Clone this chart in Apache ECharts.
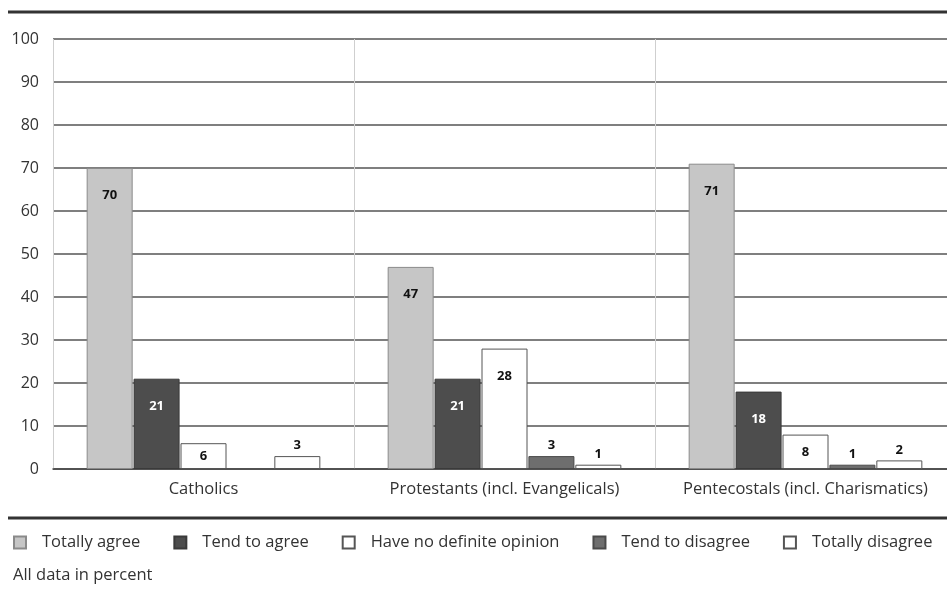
<!DOCTYPE html>
<html>
<head>
<meta charset="utf-8">
<script src="https://cdn.jsdelivr.net/npm/echarts@6/dist/echarts.min.js"></script>
<style>
html,body{margin:0;padding:0;background:#fff;}
#chart{width:947px;height:596px;}
</style>
</head>
<body>
<div id="chart"></div>
<script>
const categories = ['Catholics', 'Protestants (incl. Evangelicals)', 'Pentecostals (incl. Charismatics)'];
const seriesNames = ['Totally agree', 'Tend to agree', 'Have no definite opinion', 'Tend to disagree', 'Totally disagree'];
const totallyAgree = [70, 47, 71];
const tendToAgree = [21, 21, 18];
const noOpinion = [6, 28, 8];
const tendToDisagree = [null, 3, 1];
const totallyDisagree = [3, 1, 2];
const yTicks = [0, 10, 20, 30, 40, 50, 60, 70, 80, 90, 100];
const note = 'All data in percent';

const FONT = '"Open Sans", "Noto Sans", sans-serif';
const fills = ['#c6c6c6', '#4d4d4d', '#ffffff', '#6e6e6e', '#ffffff'];
const borders = ['#8a8a8a', '#3a3a3a', '#555555', '#4a4a4a', '#555555'];
const labelColors = ['#111', '#fff', '#111', '#111', '#111'];
const values = [totallyAgree, tendToAgree, noOpinion, tendToDisagree, totallyDisagree];

function makeData(arr, idx) {
  return arr.map(v => {
    if (v === null) return { value: null };
    let label;
    if (v >= 10) {
      label = { show: true, position: 'insideTop', distance: 21, color: labelColors[idx] };
    } else if (v >= 5) {
      label = { show: true, position: 'inside', color: labelColors[idx] };
    } else {
      label = { show: true, position: 'top', distance: 4, color: '#111' };
    }
    return { value: v, label: label };
  });
}

const series = seriesNames.map((name, i) => ({
  name: name,
  type: 'bar',
  barWidth: 46,
  barGap: '2%',
  data: makeData(values[i], i),
  itemStyle: { color: fills[i], borderColor: borders[i], borderWidth: 1 },
  label: { fontFamily: FONT, fontSize: 13, fontWeight: 'bold' },
  emphasis: { disabled: true }
}));

const chart = echarts.init(document.getElementById('chart'), null, { renderer: 'canvas' });
chart.setOption({
  animation: false,
  backgroundColor: '#ffffff',
  grid: { left: 53, width: 903, top: 39, height: 430, containLabel: false, outerBoundsMode: 'none' },
  legend: {
    data: seriesNames,
    left: 13,
    top: 534,
    padding: 0,
    itemWidth: 12,
    itemHeight: 12,
    itemGap: 33,
    icon: 'rect',
    textStyle: { fontFamily: FONT, fontSize: 16.5, color: '#333', padding: [0, 0, 0, 11] }
  },
  graphic: [
    { type: 'line', shape: { x1: 8, y1: 12, x2: 947, y2: 12 }, style: { stroke: '#333', lineWidth: 3 } },
    { type: 'line', shape: { x1: 8, y1: 518, x2: 947, y2: 518 }, style: { stroke: '#333', lineWidth: 3 } },
    { type: 'text', left: 13, top: 567, style: { text: note, fontFamily: FONT, fontSize: 16.5, fill: '#333' } }
  ],
  xAxis: {
    type: 'category',
    data: categories,
    axisLine: { show: true, lineStyle: { color: '#444', width: 1.5 } },
    axisTick: { show: false },
    axisLabel: { fontFamily: FONT, fontSize: 16.5, color: '#333', margin: 12, interval: 0 },
    splitLine: { show: true, lineStyle: { color: '#cfcfcf', width: 1 } }
  },
  yAxis: {
    type: 'value',
    min: yTicks[0],
    max: yTicks[yTicks.length - 1],
    interval: yTicks[1] - yTicks[0],
    axisLine: { show: false },
    axisTick: { show: false },
    axisLabel: { fontFamily: FONT, fontSize: 16, color: '#333', margin: 14 },
    splitLine: { show: true, lineStyle: { color: '#555', width: 1.5 } }
  },
  series: series
});
</script>
</body>
</html>
